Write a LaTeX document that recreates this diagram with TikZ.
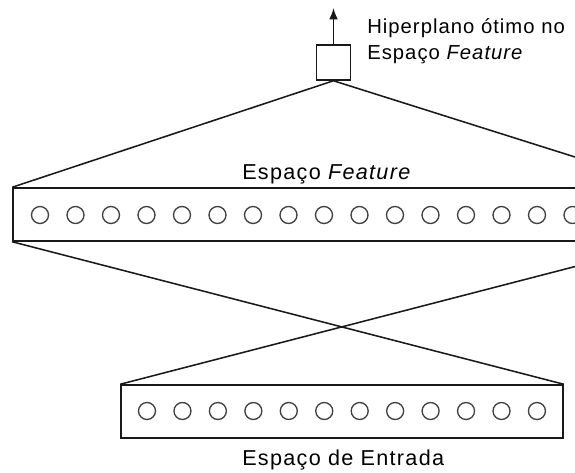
\documentclass[tikz,border=0pt]{standalone}
\usepackage{fontspec}
\setmainfont{Liberation Sans}
\usetikzlibrary{arrows.meta}
\tikzset{
  px/.style={x=0.75pt,y=-0.75pt},
  line/.style={draw=black!90,line width=1.15pt},
  boxshape/.style={line, rectangle, inner sep=0pt, fill=white},
  unit/.style={circle, draw=black!75, line width=1pt, minimum size=12.75pt, inner sep=0pt},
  lbl/.style={inner sep=0pt, font=\fontsize{16.2}{19.3}\selectfont\addfontfeature{LetterSpace=6}},
  toplbl/.style={inner sep=0pt, font=\fontsize{15.2}{19.3}\selectfont\addfontfeature{LetterSpace=5}},
}
\begin{document}
\begin{tikzpicture}[px]
\clip (0,0) rectangle (575,472);
\fill[white] (0,0) rectangle (575,472);
% boxes
\node[boxshape, minimum width=492.75pt, minimum height=39.75pt] (fbox) at (341.5,214.5) {};
\node[boxshape, minimum width=331.5pt, minimum height=39.75pt] (ibox) at (342,411.5) {};
\node[boxshape, minimum width=25.5pt, minimum height=26.25pt] (sq) at (333.5,62.5) {};
\coordinate (tip) at (333.5,8);
% connectors
\draw[line] (sq.south) -- (fbox.north west);
\draw[line] (sq.south) -- (fbox.north east);
\draw[line] (fbox.south west) -- (ibox.north east);
\draw[line] (fbox.south east) -- (ibox.north west);
\draw[line, -{Latex[length=8.5pt,width=6.5pt]}] (sq.north) -- (tip);
% units
\foreach \i in {0,...,17} { \node[unit] (f\i) at (40+35.5*\i,215) {}; }
\foreach \i in {0,...,11} { \node[unit] (u\i) at (147+35.45*\i,411) {}; }
% labels
\node[toplbl, anchor=base west, align=left] (tlabel) at (367,59) {Hiperplano ótimo no\\Espaço \textit{Feature}};
\node[lbl, anchor=base west] (flabel) at (242,179.3) {Espaço \textit{Feature}};
\node[lbl, anchor=base west] (ilabel) at (242,465.7) {Espaço de Entrada};
\end{tikzpicture}
\end{document}
